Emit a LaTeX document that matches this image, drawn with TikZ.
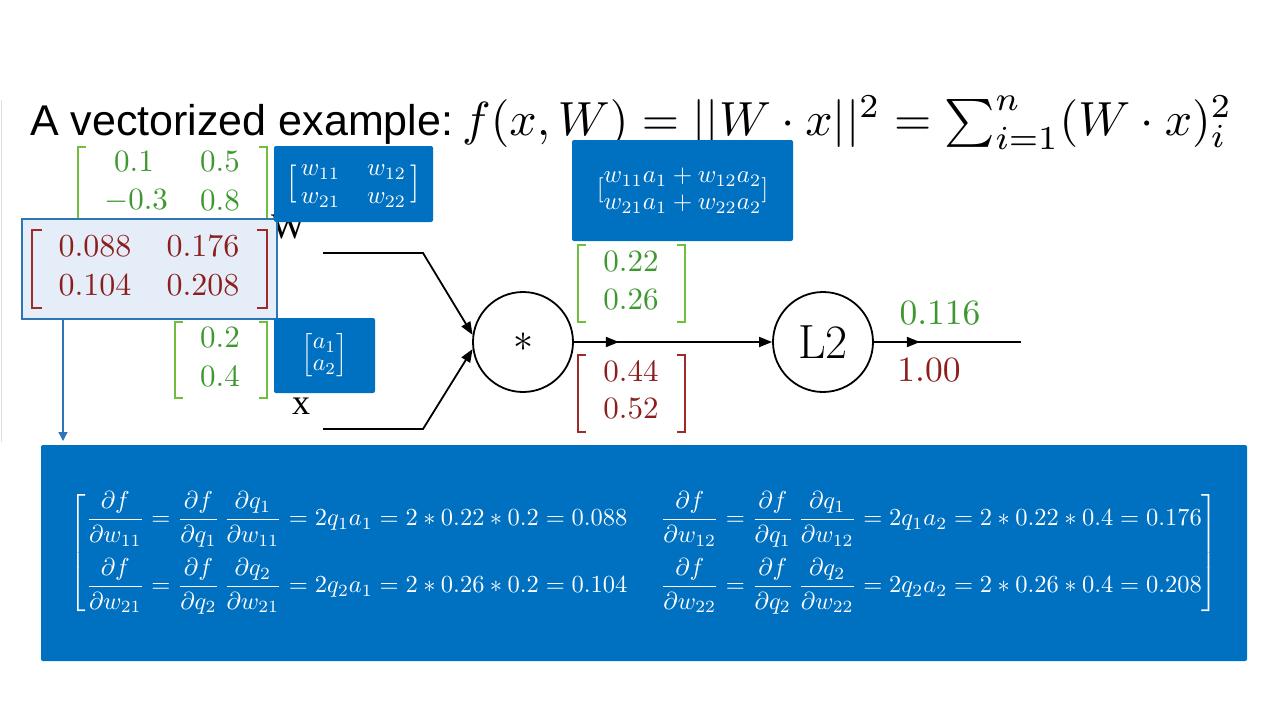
\documentclass[tikz,border=0pt]{standalone}
\usepackage{amsmath}
\usepackage{fontspec}
\usepackage{graphicx}
\usetikzlibrary{arrows.meta,decorations.markings}
\newfontfamily\titlesans{Liberation Sans}
\newfontfamily\labelserif{Liberation Serif}
\definecolor{boxblue}{RGB}{0,112,192}
\definecolor{edgeblue}{RGB}{46,117,182}
\definecolor{paleblue}{RGB}{229,238,248}
\definecolor{numgreen}{RGB}{62,152,48}
\definecolor{brgreen}{RGB}{112,190,62}
\definecolor{numred}{RGB}{140,30,30}
\definecolor{brred}{RGB}{158,42,42}
\newcommand\brkglyph[2]{\vcenter{\hbox{\fontsize{#1}{#1}\selectfont #2}}}
\newcommand\mscaled[2]{\scalebox{#1}{$#2$}}
\begin{document}
\begin{tikzpicture}[x=1pt,y=-1pt,
  bluebox/.style={fill=boxblue, draw=none, rounded corners=2pt, text=white, inner sep=0pt},
  gnum/.style={text=numgreen, inner sep=0pt},
  rnum/.style={text=numred, inner sep=0pt},
  gbr/.style={draw=brgreen, line width=1.6pt},
  rbr/.style={draw=brred, line width=1.6pt},
  opnode/.style={circle, draw, line width=1.8pt, minimum size=100pt, inner sep=0pt},
  tipstyle/.style={-{Triangle[length=13pt,width=10pt]}},
  wire/.style={line width=1.8pt},
  midarrow/.style={postaction={decorate}, decoration={markings, mark=at position #1 with {\arrow{Triangle[length=13pt,width=10pt]}}}}
]
\useasboundingbox (0,0) rectangle (1287,723);
\fill[white] (0,0) rectangle (1287,723);
\draw[black!12, line width=1pt] (1,100) -- (1,442);

% title
\node[anchor=base west, inner sep=0pt, font=\titlesans\fontsize{43}{50}\selectfont] (title) at (30,135) {A vectorized example:};
\node[anchor=base west, inner sep=0pt] (formula) at (462,135)
  {\resizebox{770pt}{!}{$f(x,W) = ||W\cdot x||^2 = \textstyle\sum_{i=1}^{n}(W\cdot x)_i^2$}};

% labels W, x
\node[anchor=base west, inner sep=0pt, font=\labelserif\fontsize{36}{40}\selectfont] (wlab) at (271,238) {W};
\node[anchor=base, inner sep=0pt, font=\labelserif\fontsize{36}{40}\selectfont] (xlab) at (301,414) {x};

% green W matrix
\draw[gbr] (86,147) -| (78,222) -- (86,222);
\draw[gbr] (259,147) -| (267,222) -- (259,222);
\node[gnum] (w11v) at (134,162) {\mscaled{3.1}{0.1}};
\node[gnum] (w12v) at (220,162) {\mscaled{3.1}{0.5}};
\node[gnum] (w21v) at (136,201) {\mscaled{3.1}{-0.3}};
\node[gnum] (w22v) at (220,201) {\mscaled{3.1}{0.8}};

% green x vector
\draw[gbr] (183,322) -| (175,398) -- (183,398);
\draw[gbr] (259,322) -| (267,398) -- (259,398);
\node[gnum] (x1v) at (220,338) {\mscaled{3.1}{0.2}};
\node[gnum] (x2v) at (220,377) {\mscaled{3.1}{0.4}};

% graph
\node[opnode] (mult) at (523,342) {\mscaled{4}{*}};
\node[opnode] (l2) at (823,342) {\fontsize{48}{48}\selectfont L2};
\coordinate (win) at (323,253);
\coordinate (wbend) at (423,253);
\coordinate (xin) at (323,429);
\coordinate (xbend) at (423,429);
\coordinate (outend) at (1021,342);
\draw[wire, tipstyle] (win) -- (wbend) -- (mult.172);
\draw[wire, tipstyle] (xin) -- (xbend) -- (mult.188);
\draw[wire, tipstyle, midarrow=45pt] (mult) -- (l2);
\draw[wire, midarrow=46pt] (l2) -- (outend);

% q vectors
\draw[gbr] (586,245) -| (578,322) -- (586,322);
\draw[gbr] (677,245) -| (685,322) -- (677,322);
\node[gnum] (q1v) at (631,262) {\mscaled{3.1}{0.22}};
\node[gnum] (q2v) at (631,300) {\mscaled{3.1}{0.26}};
\draw[rbr] (586,355) -| (578,432) -- (586,432);
\draw[rbr] (677,355) -| (685,432) -- (677,432);
\node[rnum] (g1v) at (631,372) {\mscaled{3.1}{0.44}};
\node[rnum] (g2v) at (631,409) {\mscaled{3.1}{0.52}};
\node[gnum] (outv) at (940,313) {\mscaled{3.55}{0.116}};
\node[rnum] (outg) at (929,370) {\mscaled{3.55}{1.00}};

% gradient of W (highlighted)
\node[draw=edgeblue, fill=paleblue, line width=2.6pt, minimum width=255pt, minimum height=100pt, inner sep=0pt] (gradw) at (149.5,269) {};
\draw[rbr] (42,230) -| (32,308) -- (42,308);
\draw[rbr] (257,230) -| (267,308) -- (257,308);
\node[rnum] (dw11) at (95,246) {\mscaled{3.2}{0.088}};
\node[rnum] (dw12) at (203,246) {\mscaled{3.2}{0.176}};
\node[rnum] (dw21) at (95,285) {\mscaled{3.2}{0.104}};
\node[rnum] (dw22) at (203,285) {\mscaled{3.2}{0.208}};

% blue symbol boxes
\node[bluebox, minimum width=159pt, minimum height=76pt] (wsym) at (353.5,184)
  {\mscaled{2.5}{\renewcommand\arraystretch{0.93}\brkglyph{15.2}{[}\,\begin{array}{@{}l@{\hspace{10.8pt}}l@{}} w_{11} & w_{12}\\ w_{21} & w_{22}\end{array}\,\brkglyph{15.2}{]}}};
\node[bluebox, minimum width=221pt, minimum height=101pt] (qsym) at (682.5,190.5)
  {\mscaled{2.5}{\renewcommand\arraystretch{0.9}[\begin{array}{@{}c@{}} w_{11}a_1+w_{12}a_2\\ w_{21}a_1+w_{22}a_2\end{array}]}};
\node[bluebox, minimum width=101pt, minimum height=75pt] (asym) at (324.5,355.5)
  {\mscaled{2.4}{\renewcommand\arraystretch{0.76}\left[\begin{array}{@{}c@{}} a_1\\ a_2\end{array}\right]}};

% bottom box with the derivation
\coordinate (arrend) at (63,441);
\draw[edgeblue, line width=1.3pt, -{Triangle[length=9pt,width=9pt]}] (gradw.south -| arrend) -- (arrend);
\node[bluebox, minimum width=1206pt, minimum height=216pt] (deriv) at (644,553)
  {\mscaled{2.45}{\left[\begin{array}{@{}l@{\hspace{13.5pt}}l@{}}
  \dfrac{\partial f}{\partial w_{11}} = \dfrac{\partial f}{\partial q_1}\,\dfrac{\partial q_1}{\partial w_{11}} = 2q_1a_1 = 2*0.22*0.2 = 0.088 &
  \dfrac{\partial f}{\partial w_{12}} = \dfrac{\partial f}{\partial q_1}\,\dfrac{\partial q_1}{\partial w_{12}} = 2q_1a_2 = 2*0.22*0.4 = 0.176 \\[10pt]
  \dfrac{\partial f}{\partial w_{21}} = \dfrac{\partial f}{\partial q_2}\,\dfrac{\partial q_2}{\partial w_{21}} = 2q_2a_1 = 2*0.26*0.2 = 0.104 &
  \dfrac{\partial f}{\partial w_{22}} = \dfrac{\partial f}{\partial q_2}\,\dfrac{\partial q_2}{\partial w_{22}} = 2q_2a_2 = 2*0.26*0.4 = 0.208
  \end{array}\right]}};
\end{tikzpicture}
\end{document}
